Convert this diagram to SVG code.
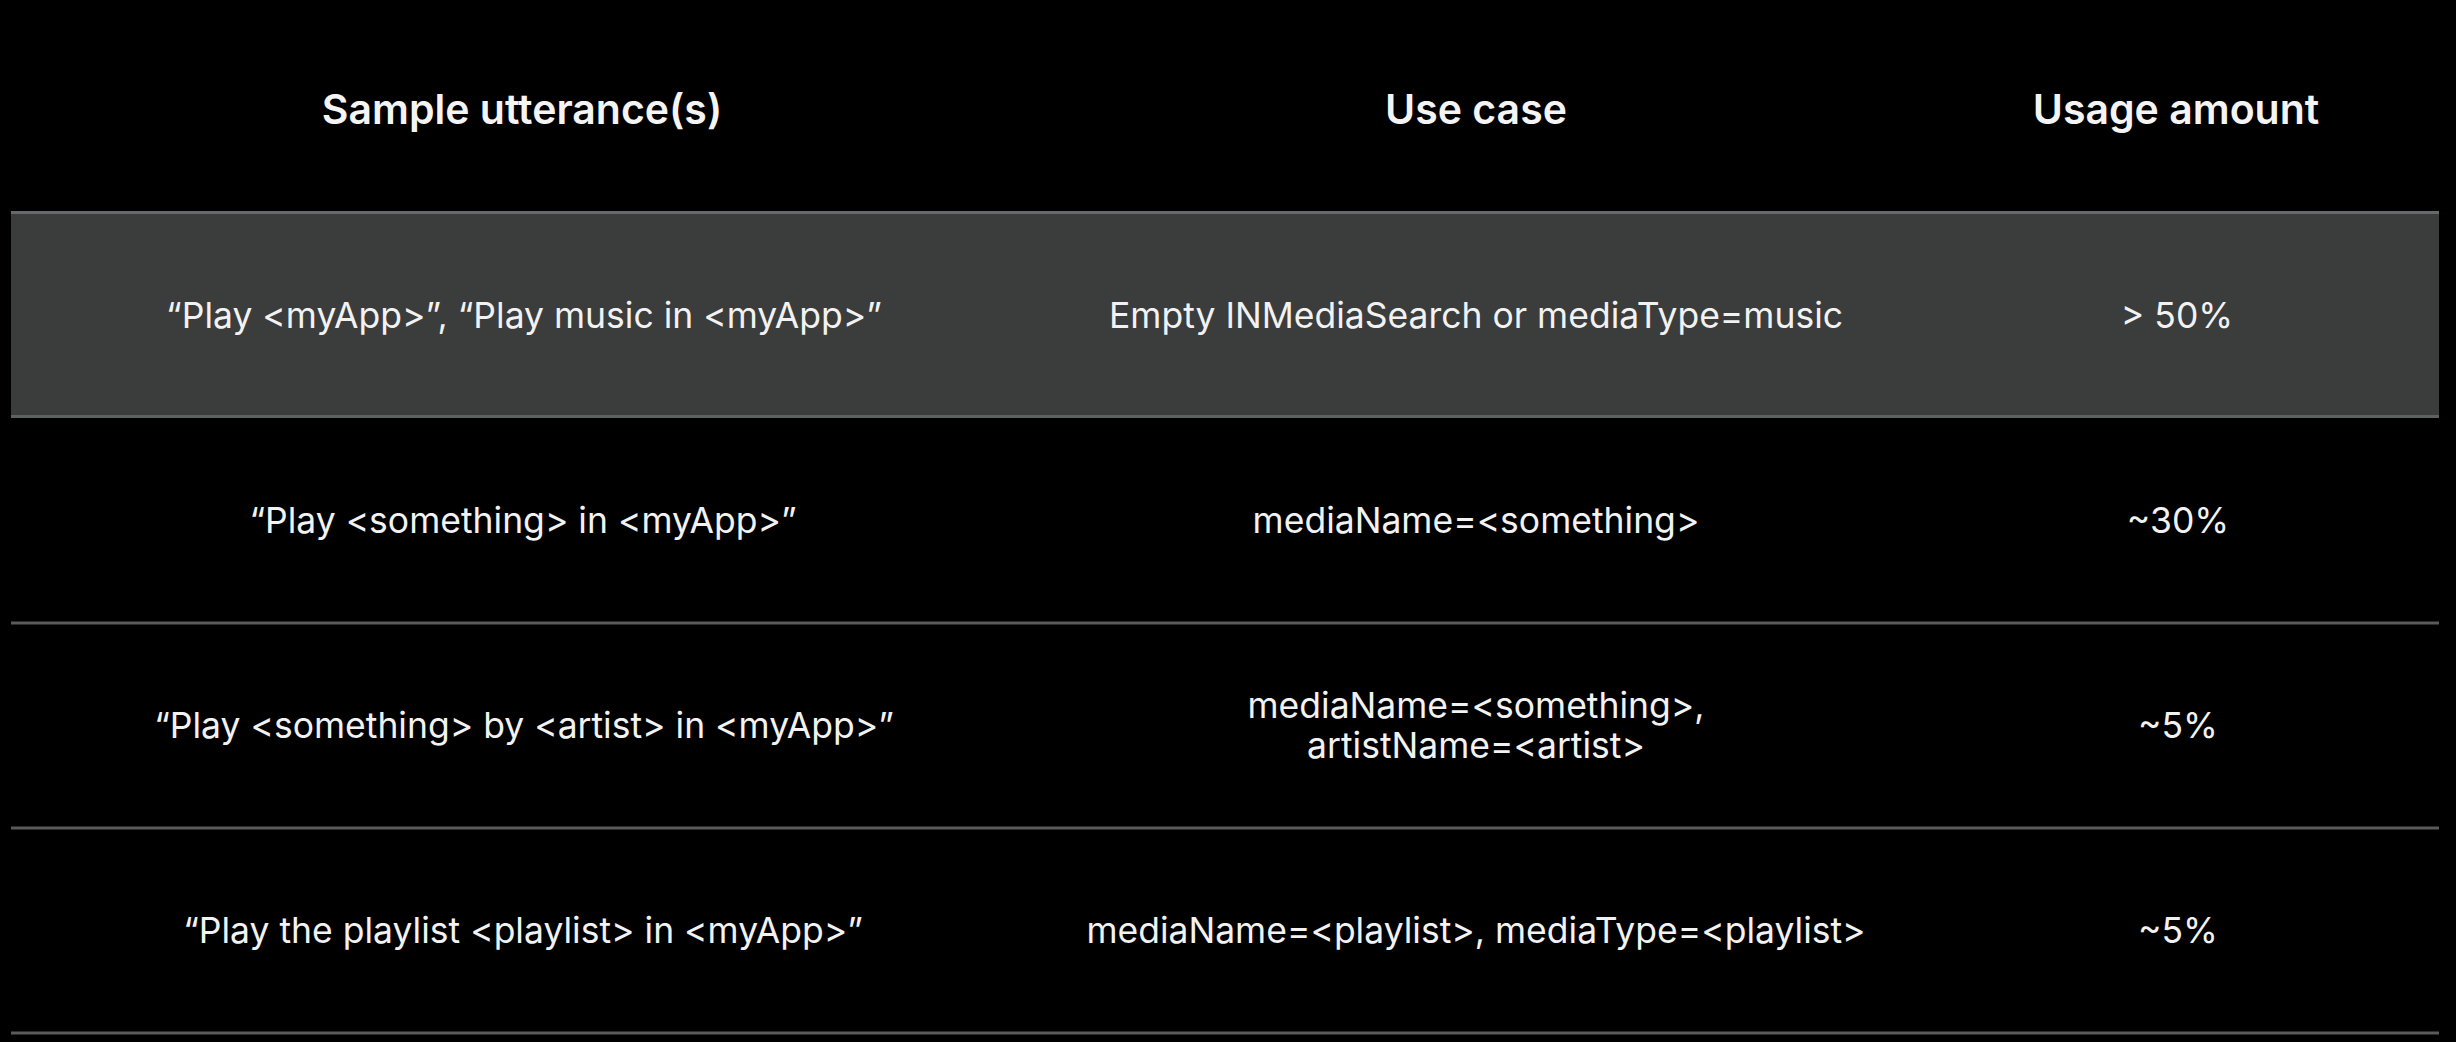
<svg xmlns="http://www.w3.org/2000/svg" width="2456" height="1042" viewBox="0 0 2456 1042">
<style>
.hd{font-family:Inter,"Liberation Sans",sans-serif;font-size:41px;font-weight:600;fill:#f4f4f4;text-anchor:middle}
.tx{font-family:Inter,"Liberation Sans",sans-serif;font-size:35.5px;font-weight:400;fill:#f2f2f2;text-anchor:middle}
.sep{stroke:#5a5a5a;stroke-width:3}
</style>
<rect x="0" y="0" width="2456" height="1042" fill="#000"/>
<g id="header">
<text class="hd" x="522" y="124">Sample utterance(s)</text>
<text class="hd" x="1476" y="124">Use case</text>
<text class="hd" x="2176" y="124">Usage amount</text>
</g>
<g id="row1">
<rect x="11" y="211" width="2428" height="207" fill="#3b3c3c"/>
<line x1="11" y1="212.5" x2="2439" y2="212.5" stroke="#646a6b" stroke-width="3"/>
<line x1="11" y1="416.5" x2="2439" y2="416.5" stroke="#5e6161" stroke-width="3"/>
<text class="tx" x="524" y="328">“Play &lt;myApp&gt;”, “Play music in &lt;myApp&gt;”</text>
<text class="tx" x="1476" y="328">Empty INMediaSearch or mediaType=music</text>
<text class="tx" x="2177" y="328">&gt; 50%</text>
</g>
<g id="row2">
<text class="tx" x="523" y="533">“Play &lt;something&gt; in &lt;myApp&gt;”</text>
<text class="tx" x="1476" y="533">mediaName=&lt;something&gt;</text>
<text class="tx" x="2178" y="533">~30%</text>
</g>
<g id="row3">
<text class="tx" x="524" y="738">“Play &lt;something&gt; by &lt;artist&gt; in &lt;myApp&gt;”</text>
<text class="tx" x="1476" y="718">mediaName=&lt;something&gt;,</text>
<text class="tx" x="1476" y="758">artistName=&lt;artist&gt;</text>
<text class="tx" x="2178" y="738">~5%</text>
</g>
<g id="row4">
<text class="tx" x="523" y="943">“Play the playlist &lt;playlist&gt; in &lt;myApp&gt;”</text>
<text class="tx" x="1476" y="943">mediaName=&lt;playlist&gt;, mediaType=&lt;playlist&gt;</text>
<text class="tx" x="2178" y="943">~5%</text>
</g>
<g id="connectors">
<line class="sep" x1="11" y1="623" x2="2439" y2="623"/>
<line class="sep" x1="11" y1="828" x2="2439" y2="828"/>
<line class="sep" x1="11" y1="1033" x2="2439" y2="1033"/>
</g>
</svg>
